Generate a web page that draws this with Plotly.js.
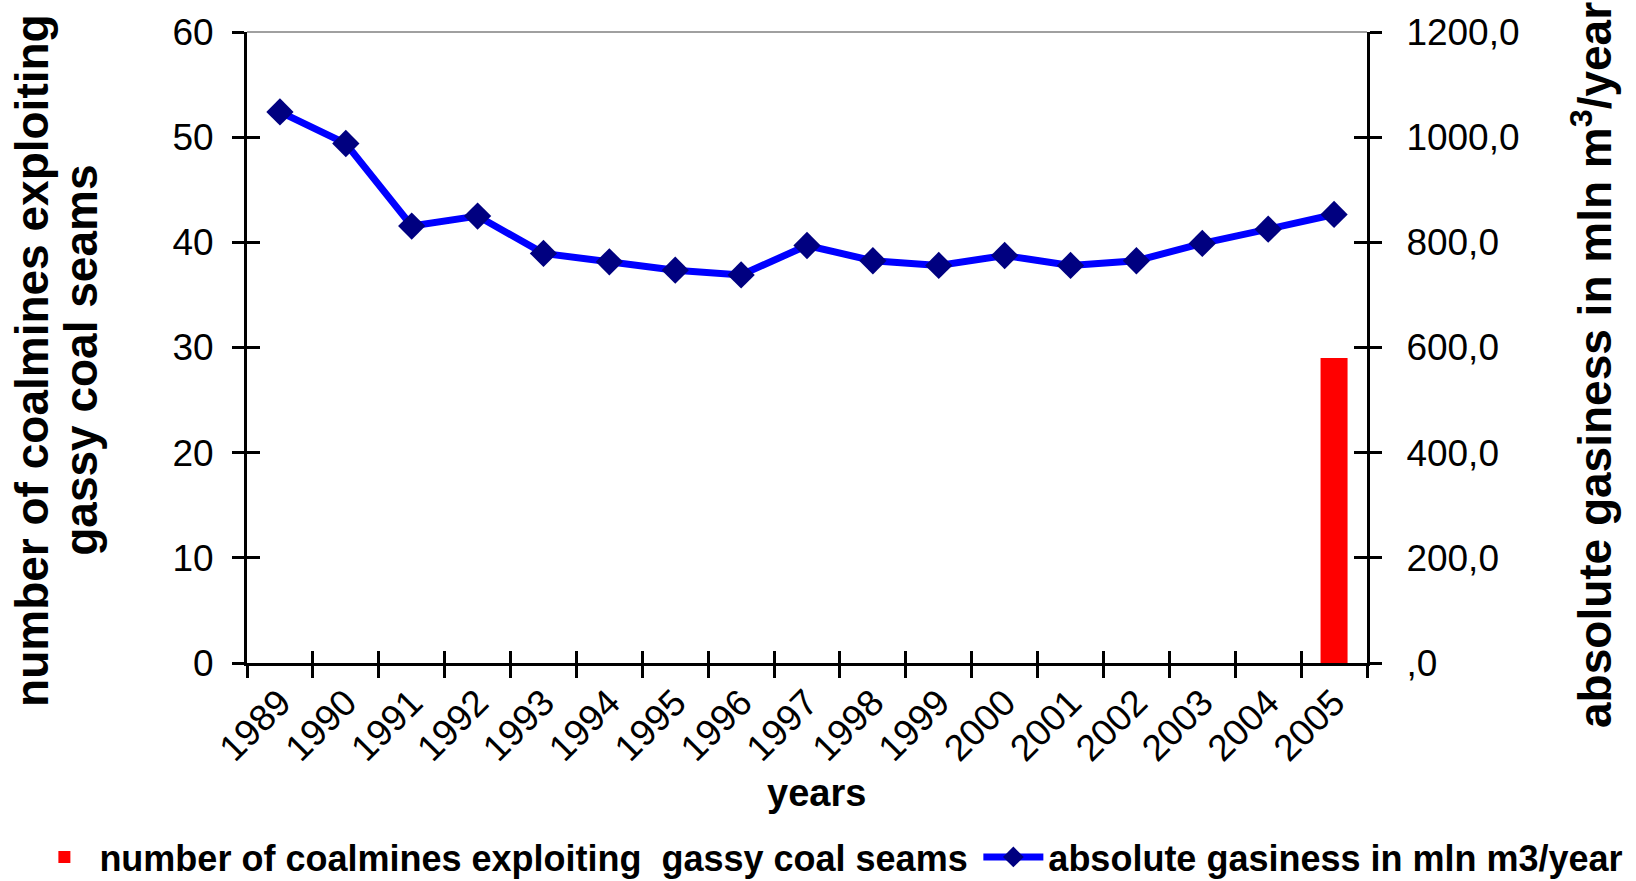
<!DOCTYPE html>
<html>
<head>
<meta charset="utf-8">
<script src="https://cdn.plot.ly/plotly-3.0.1.min.js"></script>
<style>
  html, body { margin: 0; padding: 0; background: #ffffff; }
  #chart { width: 1636px; height: 881px; }
</style>
</head>
<body>
<div id="chart"></div>
<script>
// ---- data ----
const years = ["1989","1990","1991","1992","1993","1994","1995","1996","1997","1998","1999","2000","2001","2002","2003","2004","2005"];
const coalmines = [null,null,null,null,null,null,null,null,null,null,null,null,null,null,null,null,29];
const gasiness = [1048,988,831,850,779,763,747,738,794,765,756,775,756,765,798,825,853];
const leftTickVals = [0,10,20,30,40,50,60];
const rightTickVals = [0,200,400,600,800,1000,1200];
const rightTickText = [",0","200,0","400,0","600,0","800,0","1000,0","1200,0"];
const barName = "number of coalmines exploiting  gassy coal seams";
const lineName = "absolute gasiness in mln m3/year";
const leftTitleLines = ["number of coalmines exploiting", "gassy coal seams"];
const rightTitle = "absolute gasiness in mln m<sup>3</sup>/year";
const xTitle = "years";

const FONT = "Liberation Sans, Arial, sans-serif";

const traces = [
  {
    type: "bar",
    x: years,
    y: coalmines,
    name: barName,
    marker: { color: "#ff0000" },
    xaxis: "x",
    yaxis: "y",
    legend: "legend",
    hoverinfo: "skip"
  },
  {
    type: "scatter",
    mode: "lines+markers",
    x: years,
    y: gasiness,
    name: lineName,
    line: { color: "#0000ff", width: 7 },
    marker: { symbol: "diamond", size: 21, color: "#000080" },
    xaxis: "x2",
    yaxis: "y2",
    legend: "legend2",
    hoverinfo: "skip"
  }
];

const axisCommon = {
  showgrid: false,
  zeroline: false,
  showline: true,
  linecolor: "#000000",
  linewidth: 3,
  ticks: "outside",
  ticklen: 12,
  tickwidth: 3,
  tickcolor: "#000000",
  tickfont: { family: FONT, size: 37, color: "#000000" }
};

const legendFont = { family: FONT, size: 36, color: "#000000", weight: 700 };
const titleFont = { family: FONT, size: 46, color: "#000000", weight: 700 };

const layout = {
  width: 1636,
  height: 881,
  margin: { l: 247, r: 269, t: 32, b: 218, pad: 0, autoexpand: false },
  paper_bgcolor: "#ffffff",
  plot_bgcolor: "#ffffff",
  font: { family: FONT, color: "#000000" },
  bargap: 0.59,
  hovermode: false,
  showlegend: true,
  legend: {
    orientation: "h",
    x: -0.1943,
    xanchor: "left",
    y: -0.3075,
    yanchor: "middle",
    font: legendFont,
    itemwidth: 60,
    bgcolor: "rgba(0,0,0,0)"
  },
  legend2: {
    orientation: "h",
    x: 0.653,
    xanchor: "left",
    y: -0.3075,
    yanchor: "middle",
    font: legendFont,
    itemwidth: 60,
    bgcolor: "rgba(0,0,0,0)"
  },
  // bottom category axis: labels + outward ticks between categories
  xaxis: Object.assign({}, axisCommon, {
    type: "category",
    categoryorder: "array",
    categoryarray: years,
    range: [-0.5, 16.5],
    tickson: "boundaries",
    tickangle: -45,
    automargin: false
  }),
  // overlay category axis: inward half of the crossing ticks
  xaxis2: {
    overlaying: "x",
    anchor: "y2",
    side: "bottom",
    type: "category",
    categoryorder: "array",
    categoryarray: years,
    range: [-0.5, 16.5],
    tickson: "boundaries",
    ticks: "inside",
    ticklen: 12,
    tickwidth: 3,
    tickcolor: "#000000",
    showticklabels: false,
    showgrid: false,
    zeroline: false,
    showline: false,
    automargin: false
  },
  // left axis: labels; ticks inside, mirrored to the right side (inside)
  yaxis: Object.assign({}, axisCommon, {
    range: [0, 60],
    tickvals: leftTickVals,
    ticks: "inside",
    ticklen: 13,
    mirror: "ticks",
    ticklabelstandoff: 23,
    automargin: false
  }),
  // right axis: labels; ticks outside, mirrored to the left side (outside)
  yaxis2: Object.assign({}, axisCommon, {
    overlaying: "y",
    anchor: "x2",
    side: "right",
    range: [0, 1200],
    tickvals: rightTickVals,
    ticktext: rightTickText,
    mirror: "ticks",
    ticklabelstandoff: 17,
    automargin: false
  }),
  annotations: [
    {
      text: leftTitleLines[0], textangle: -90, showarrow: false,
      xref: "paper", yref: "paper", x: -0.1920, y: 0.4802,
      xanchor: "center", yanchor: "middle", font: titleFont
    },
    {
      text: leftTitleLines[1], textangle: -90, showarrow: false,
      xref: "paper", yref: "paper", x: -0.1484, y: 0.4802,
      xanchor: "center", yanchor: "middle", font: titleFont
    },
    {
      text: rightTitle, textangle: -90, showarrow: false,
      xref: "paper", yref: "paper", x: 1.2009, y: 0.4723,
      xanchor: "center", yanchor: "middle", font: titleFont
    },
    {
      text: xTitle, showarrow: false,
      xref: "paper", yref: "paper", x: 0.5089, y: -0.206,
      xanchor: "center", yanchor: "middle",
      font: { family: FONT, size: 38, color: "#000000", weight: 700 }
    }
  ],
  shapes: [
    {
      type: "line", xref: "paper", yref: "paper",
      x0: 0, x1: 1, y0: 1, y1: 1,
      line: { color: "#a0a0a0", width: 2 },
      layer: "below"
    }
  ]
};

Plotly.newPlot("chart", traces, layout, { staticPlot: true, displayModeBar: false });
</script>
</body>
</html>
